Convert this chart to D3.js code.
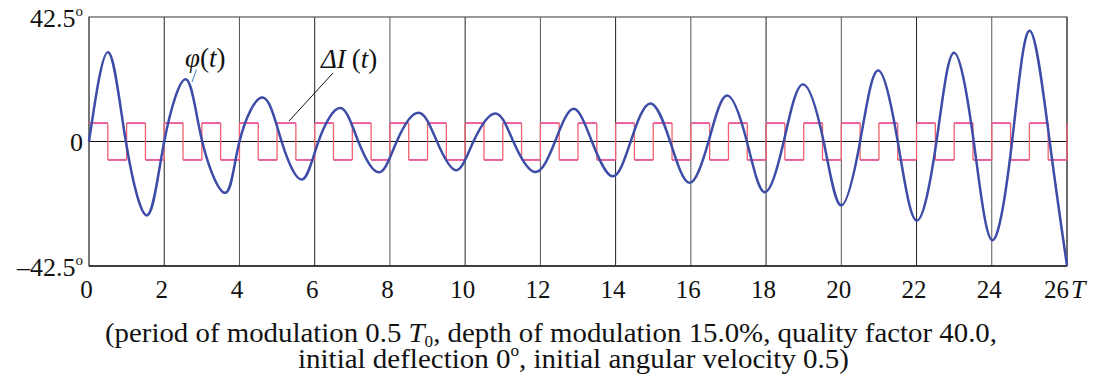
<!DOCTYPE html>
<html>
<head>
<meta charset="utf-8">
<script src="https://cdn.jsdelivr.net/npm/d3@7"></script>
<style>
  body { margin: 0; background: #fff; }
  svg text { font-family: "Liberation Serif", "Tinos", "Times New Roman", Times, "DejaVu Serif", serif; fill: #111; }
</style>
</head>
<body>
<script>
// phi(t): extrema and zero crossings (T units, degrees)
const phiT = [0, 0.51, 0.98, 1.55, 2.0, 2.58, 3.01, 3.63, 4.0, 4.62, 5.12, 5.66, 6.1,
    6.68, 7.16, 7.71, 8.18, 8.76, 9.25, 9.76, 10.22, 10.8, 11.28, 11.86, 12.39,
    12.88, 13.37, 13.92, 14.4, 14.92, 15.45, 15.96, 16.47, 16.96, 17.49, 17.96, 18.47,
    18.97, 19.53, 19.99, 20.5, 20.97, 21.5, 22.0, 22.53, 22.99, 23.52, 24.01, 24.54,
    25.01, 25.54, 26.0];
const phiV = [0, 30.5, 0, -25.2, 0, 21.2, 0, -17.5, 0, 15.0, 0, -13.0, 0,
    11.4, 0, -10.5, 0, 9.8, 0, -9.8, 0, 9.6, 0, -10.4, 0,
    11.2, 0, -11.9, 0, 13.0, 0, -14.1, 0, 15.7, 0, -17.3, 0,
    19.5, 0, -21.8, 0, 24.2, 0, -27.0, 0, 30.3, 0, -33.7, 0,
    37.8, 0, -42.4];

// delta I(t): square wave switching points and levels
const dIT = [0, 0.5, 1, 1.5, 2, 2.5, 3, 3.5, 4, 4.5, 5, 5.5, 6, 6.5, 7, 7.5, 8, 8.5,
    9, 9.5, 10, 10.5, 11, 11.5, 12, 12.5, 13, 13.5, 14, 14.5, 15, 15.5, 16, 16.5,
    17, 17.5, 18, 18.5, 19, 19.5, 20, 20.5, 21, 21.5, 22, 22.5, 23, 23.5, 24, 24.5,
    25, 25.5, 26];
const dIV = [6.3, -6.3, 6.3, -6.3, 6.3, -6.3, 6.3, -6.3, 6.3, -6.3, 6.3, -6.3, 6.3, -6.3,
    6.3, -6.3, 6.3, -6.3, 6.3, -6.3, 6.3, -6.3, 6.3, -6.3, 6.3, -6.3, 6.3, -6.3,
    6.3, -6.3, 6.3, -6.3, 6.3, -6.3, 6.3, -6.3, 6.3, -6.3, 6.3, -6.3, 6.3, -6.3,
    6.3, -6.3, 6.3, -6.3, 6.3, -6.3, 6.3, -6.3, 6.3, -6.3, 6.3];

const xTicks = [0, 2, 4, 6, 8, 10, 12, 14, 16, 18, 20, 22, 24, 26];
const yTicks = [-42.5, 0, 42.5];
const yTickLabels = ["\u201342.5", "0", "42.5"];

const width = 1103, height = 379;
const margin = { top: 17, right: 36, bottom: 113, left: 89 };
const serif = "'Liberation Serif', Tinos, 'Times New Roman', Times, 'DejaVu Serif', serif";

const svg = d3.select("body")
    .append("svg")
    .attr("width", width)
    .attr("height", height)
    .attr("viewBox", [0, 0, width, height])
    .attr("font-family", serif);

const x = d3.scaleLinear().domain([0, 26]).range([margin.left, width - margin.right]);
const y = d3.scaleLinear().domain([-42.5, 42.5]).range([height - margin.bottom, margin.top]);

// vertical grid every 2 T
svg.append("g")
    .selectAll("line")
    .data(xTicks)
    .join("line")
    .attr("x1", d => x(d)).attr("x2", d => x(d))
    .attr("y1", y(42.5)).attr("y2", y(-42.5))
    .attr("stroke", (d, i) => i % 2 ? "#222" : "#555")
    .attr("stroke-width", 1);

// frame
svg.append("rect")
    .attr("x", x(0)).attr("y", y(42.5))
    .attr("width", x(26) - x(0)).attr("height", y(-42.5) - y(42.5))
    .attr("fill", "none")
    .attr("stroke", "#555")
    .attr("stroke-width", 1.2);

svg.append("line")
    .attr("x1", x(0)).attr("x2", x(26))
    .attr("y1", y(-42.5)).attr("y2", y(-42.5))
    .attr("stroke", "#222").attr("stroke-width", 1.4);

// zero line
svg.append("line")
    .attr("x1", x(0)).attr("x2", x(26))
    .attr("y1", y(0)).attr("y2", y(0))
    .attr("stroke", "#111").attr("stroke-width", 1);

// square wave: vertical edges lighter red, flat parts pink
const steps = dIT.map((t, i) => ({ t, v: dIV[i] }));
svg.append("g")
    .selectAll("line")
    .data(steps.slice(1))
    .join("line")
    .attr("x1", d => x(d.t)).attr("x2", d => x(d.t))
    .attr("y1", (d, i) => y(steps[i].v)).attr("y2", d => y(d.v))
    .attr("stroke", "#f0606e")
    .attr("stroke-width", 1.3);
svg.append("g")
    .selectAll("line")
    .data(steps.slice(0, -1))
    .join("line")
    .attr("x1", d => x(d.t)).attr("x2", (d, i) => x(steps[i + 1].t))
    .attr("y1", d => y(d.v)).attr("y2", d => y(d.v))
    .attr("stroke", "#e8609e")
    .attr("stroke-width", 2);

// phi(t)
const phi = phiT.map((t, i) => ({ t, v: phiV[i] }));
const line = d3.line()
    .x(d => x(d.t))
    .y(d => y(d.v))
    .curve(d3.curveNatural);

svg.append("path")
    .datum(phi)
    .attr("fill", "none")
    .attr("stroke", "#3d4ca6")
    .attr("stroke-width", 2.5)
    .attr("d", line);

// x axis labels
const xAxis = svg.append("g")
    .attr("transform", `translate(0,${y(-42.5)})`)
    .call(d3.axisBottom(x).tickValues(xTicks).tickSize(0).tickPadding(14));
xAxis.attr("font-family", serif).attr("font-size", 25);
xAxis.select(".domain").remove();
xAxis.selectAll("text")
    .attr("fill", "#111")
    .attr("dx", d => d === 26 ? -11 : -3);

svg.append("text")
    .attr("x", x(26) + 4)
    .attr("y", 298)
    .attr("font-size", 26)
    .attr("font-style", "italic")
    .text("T");

// y axis labels with superscript degree
const yLab = svg.append("g")
    .selectAll("text")
    .data(yTicks)
    .join("text")
    .attr("x", 83)
    .attr("y", d => y(d) + 9.5)
    .attr("text-anchor", "end")
    .attr("font-size", 26);
yLab.append("tspan").text((d, i) => yTickLabels[i]);
yLab.filter(d => d !== 0)
    .append("tspan")
    .attr("font-size", 15)
    .attr("dy", -11)
    .text("o");

// curve labels with leaders
svg.append("line")
    .attr("x1", 196.5).attr("y1", 69.5).attr("x2", 192).attr("y2", 82)
    .attr("stroke", "#3b7fc0").attr("stroke-width", 1);
const phiLab = svg.append("text").attr("x", 185).attr("y", 67).attr("font-size", 27);
phiLab.append("tspan").attr("font-style", "italic").text("\u03c6");
phiLab.append("tspan").text("(");
phiLab.append("tspan").attr("font-style", "italic").text("t");
phiLab.append("tspan").text(")");

svg.append("line")
    .attr("x1", 333).attr("y1", 73).attr("x2", 289).attr("y2", 121)
    .attr("stroke", "#111").attr("stroke-width", 1);
const dILab = svg.append("text").attr("x", 321).attr("y", 68).attr("font-size", 27);
dILab.append("tspan").attr("font-style", "italic").text("\u0394I");
dILab.append("tspan").attr("dx", 6).text("(");
dILab.append("tspan").attr("font-style", "italic").text("t");
dILab.append("tspan").text(")");

// caption
const cap1 = svg.append("text").attr("x", 105).attr("y", 342).attr("font-size", 27)
    .attr("textLength", 892).attr("lengthAdjust", "spacingAndGlyphs");
cap1.append("tspan").text("(period of modulation 0.5 ");
cap1.append("tspan").attr("font-style", "italic").text("T");
cap1.append("tspan").attr("font-size", 16).attr("dy", 5).text("0");
cap1.append("tspan").attr("dy", -5).text(", depth of modulation 15.0%, quality factor 40.0,");

const cap2 = svg.append("text").attr("x", 298).attr("y", 368).attr("font-size", 27)
    .attr("textLength", 551).attr("lengthAdjust", "spacingAndGlyphs");
cap2.append("tspan").text("initial deflection 0");
cap2.append("tspan").attr("font-size", 16).attr("dy", -12).text("o");
cap2.append("tspan").attr("dy", 12).text(", initial angular velocity 0.5)");
</script>
</body>
</html>
